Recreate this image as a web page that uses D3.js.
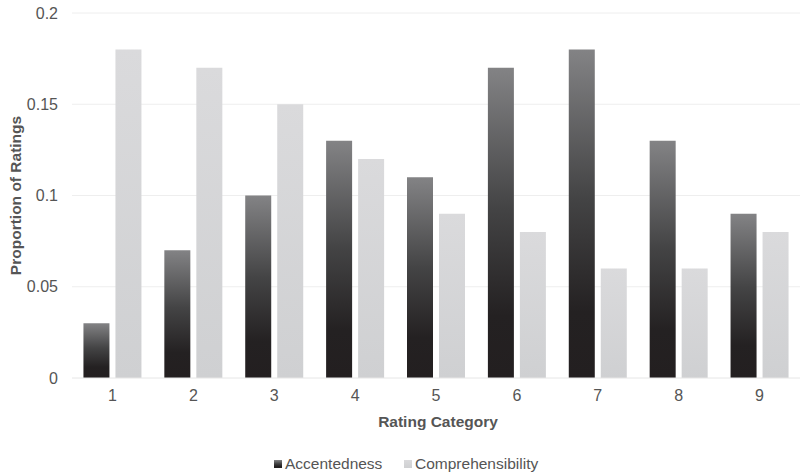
<!DOCTYPE html>
<html><head><meta charset="utf-8">
<script src="https://cdn.jsdelivr.net/npm/d3@7"></script>
<style>body{margin:0;background:#fff}svg{font-family:"Liberation Sans",Arial,sans-serif}</style>
</head><body><svg id="c" width="804" height="475"></svg>
<script>
const categories = ["1","2","3","4","5","6","7","8","9"];
const accentedness = [0.03,0.07,0.10,0.13,0.11,0.17,0.18,0.13,0.09];
const comprehensibility = [0.18,0.17,0.15,0.12,0.09,0.08,0.06,0.06,0.08];
const yTicks = [0,0.05,0.1,0.15,0.2];
const seriesNames = ["Accentedness","Comprehensibility"];

const svg = d3.select("#c");
const m = {l:72, r:4, t:13, b:97};
const W = 804, H = 475;
const x = d3.scaleBand().domain(categories).range([m.l, W-m.r]);
const y = d3.scaleLinear().domain([0,0.2]).range([H-m.b, m.t]);

const defs = svg.append("defs");
const g1 = defs.append("linearGradient").attr("id","gDark").attr("x1",0).attr("y1",0).attr("x2",0).attr("y2",1);
[[0,"#838385"],[0.45,"#444445"],[0.8,"#242122"],[1,"#231f20"]].forEach(s=>g1.append("stop").attr("offset",s[0]).attr("stop-color",s[1]));
const g2 = defs.append("linearGradient").attr("id","gLight").attr("x1",0).attr("y1",0).attr("x2",0).attr("y2",1);
[[0,"#dadadc"],[1,"#cfd0d2"]].forEach(s=>g2.append("stop").attr("offset",s[0]).attr("stop-color",s[1]));

// gridlines
svg.append("g").selectAll("line").data(yTicks.slice(1)).join("line")
  .attr("x1",m.l).attr("x2",W-m.r).attr("y1",d=>y(d)).attr("y2",d=>y(d))
  .attr("stroke","#eeeeee").attr("stroke-width",1);

const yAxis = svg.append("g").attr("transform",`translate(${m.l},0)`)
  .call(d3.axisLeft(y).tickValues(yTicks).tickFormat(d=>String(d)).tickSize(0).tickPadding(14));
yAxis.select(".domain").remove();
yAxis.selectAll("text").attr("font-size",16).attr("fill","#555555").attr("font-family","Liberation Sans, Arial, sans-serif");

const bw = 26, gap = 6;
const grp = svg.append("g");
categories.forEach((c,i)=>{
  const cx = x(c) + x.bandwidth()/2;
  grp.append("rect").attr("x",cx - gap/2 - bw).attr("width",bw)
    .attr("y",y(accentedness[i])).attr("height",y(0)-y(accentedness[i]))
    .attr("fill","url(#gDark)");
  grp.append("rect").attr("x",cx + gap/2).attr("width",bw)
    .attr("y",y(comprehensibility[i])).attr("height",y(0)-y(comprehensibility[i]))
    .attr("fill","url(#gLight)");
});

// baseline
svg.append("line").attr("x1",m.l).attr("x2",W-m.r).attr("y1",y(0)).attr("y2",y(0)).attr("stroke","#e6e6e6");

const xAxis = svg.append("g").attr("transform",`translate(0,${y(0)})`)
  .call(d3.axisBottom(x).tickSize(0).tickPadding(12));
xAxis.select(".domain").remove();
xAxis.selectAll("text").attr("font-size",16).attr("fill","#555555").attr("font-family","Liberation Sans, Arial, sans-serif");

svg.append("text").attr("x",(m.l+W-m.r)/2 + 2).attr("y",427).attr("text-anchor","middle")
  .attr("font-size",15.5).attr("font-weight","bold").attr("fill","#555555").text("Rating Category");
svg.append("text").attr("transform",`translate(21,${(y(0)+y(0.2))/2}) rotate(-90)`).attr("text-anchor","middle")
  .attr("font-size",15.5).attr("font-weight","bold").attr("fill","#555555").text("Proportion of Ratings");

// legend
const leg = svg.append("g");
const lx = [274, 404];
seriesNames.forEach((n,i)=>{
  leg.append("rect").attr("x",lx[i]).attr("y",460).attr("width",8).attr("height",8)
    .attr("fill", i===0 ? "url(#gDark)" : "url(#gLight)");
  leg.append("text").attr("x",lx[i]+11).attr("y",469).attr("font-size",15.5).attr("fill","#555555").text(n);
});
</script></body></html>
